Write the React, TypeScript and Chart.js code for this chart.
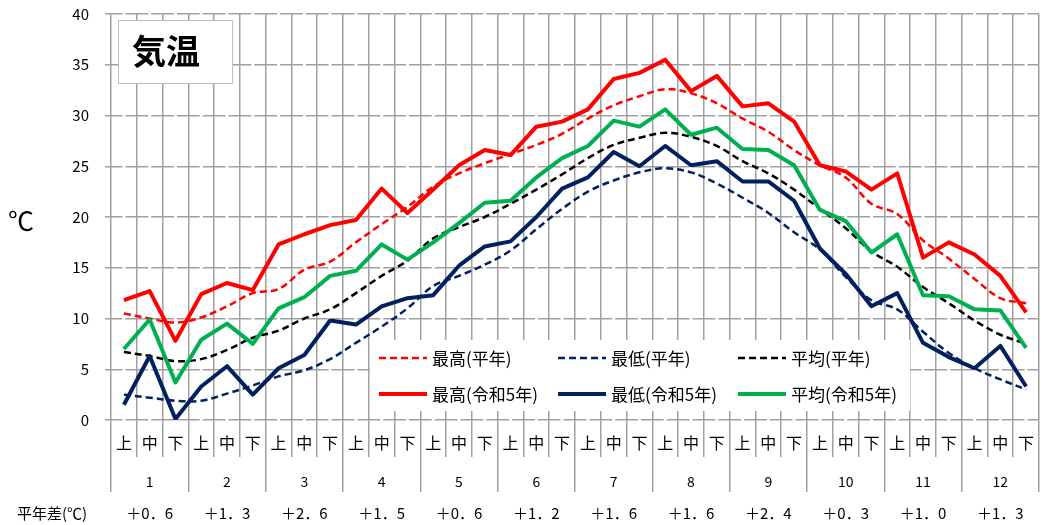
import { useEffect, useRef } from 'react';
import { Chart, registerables } from 'chart.js';

Chart.register(...registerables);

// ---- data ----
const months = ['1', '2', '3', '4', '5', '6', '7', '8', '9', '10', '11', '12'];
const dekads = ['上', '中', '下'];
const categories = months.flatMap(() => dekads);

const maxNormal = [10.5, 10.0, 9.6, 10.1, 11.2, 12.5, 12.9, 14.8, 15.6, 17.5, 19.3, 21.0, 23.0, 24.3, 25.3, 26.2, 27.1, 28.2, 29.7, 31.0, 31.9, 32.6, 32.2, 31.2, 29.7, 28.4, 26.6, 25.1, 23.9, 21.3, 20.3, 17.7, 15.9, 13.9, 12.0, 11.5];
const minNormal = [2.5, 2.2, 1.9, 1.9, 2.6, 3.4, 4.3, 4.9, 6.0, 7.6, 9.2, 11.0, 13.2, 14.2, 15.3, 16.7, 18.8, 20.8, 22.5, 23.6, 24.4, 24.8, 24.4, 23.3, 21.9, 20.4, 18.5, 16.8, 14.1, 11.8, 10.9, 8.7, 6.6, 5.1, 4.0, 3.0];
const avgNormal = [6.7, 6.3, 5.8, 6.0, 6.9, 8.1, 8.8, 10.0, 10.9, 12.5, 14.2, 15.7, 17.9, 19.0, 20.0, 21.3, 22.7, 24.2, 25.8, 27.1, 27.8, 28.3, 27.9, 27.0, 25.5, 24.3, 22.7, 20.8, 18.9, 16.6, 15.1, 13.1, 11.5, 9.8, 8.4, 7.5];
const max2023 = [11.8, 12.7, 7.8, 12.4, 13.5, 12.8, 17.3, 18.3, 19.2, 19.7, 22.8, 20.4, 22.7, 25.1, 26.6, 26.1, 28.9, 29.4, 30.6, 33.6, 34.2, 35.5, 32.4, 33.9, 30.9, 31.2, 29.4, 25.1, 24.5, 22.7, 24.3, 16.0, 17.5, 16.3, 14.2, 10.6];
const min2023 = [1.5, 6.3, 0.1, 3.3, 5.3, 2.5, 5.1, 6.4, 9.8, 9.4, 11.2, 12.0, 12.3, 15.2, 17.1, 17.6, 20.0, 22.8, 23.9, 26.4, 25.0, 27.0, 25.1, 25.5, 23.5, 23.5, 21.6, 16.9, 14.4, 11.2, 12.5, 7.6, 6.2, 5.1, 7.3, 3.3];
const avg2023 = [7.0, 9.9, 3.7, 7.9, 9.5, 7.5, 11.0, 12.1, 14.2, 14.7, 17.3, 15.8, 17.5, 19.4, 21.4, 21.6, 23.9, 25.8, 27.0, 29.5, 28.9, 30.6, 28.1, 28.8, 26.7, 26.6, 25.1, 20.7, 19.6, 16.5, 18.3, 12.3, 12.2, 10.9, 10.8, 7.1];
const anomalies = ['＋0．6', '＋1．3', '＋2．6', '＋1．5', '＋0．6', '＋1．2', '＋1．6', '＋1．6', '＋2．4', '＋0．3', '＋1．0', '＋1．3'];
const yMin = 0;
const yMax = 40;
const yStep = 5;

const FONT = '"Noto Sans CJK JP", "Noto Sans", sans-serif';
const GRID = '#a0a0a0';
const RED = '#ff0000';
const NAVY = '#002060';
const GREEN = '#00b050';
const BLACK = '#000000';
const DASH = [7, 4];
const CAT_W = 928 / 36;

const decorPlugin = {
  id: 'decor',
  afterDraw(chart: any) {
    const ctx = chart.ctx as CanvasRenderingContext2D;
    ctx.save();
    // title box
    ctx.fillStyle = '#ffffff';
    ctx.fillRect(118, 20, 114, 63);
    ctx.strokeStyle = '#c0c0c0';
    ctx.lineWidth = 1;
    ctx.strokeRect(118.5, 20.5, 114, 63);
    ctx.fillStyle = '#000';
    ctx.font = `bold 34px ${FONT}`;
    ctx.textBaseline = 'middle';
    ctx.textAlign = 'left';
    ctx.fillText('気温', 132, 51);

    // unit label
    ctx.font = `26px ${FONT}`;
    ctx.fillText('℃', 8, 221);

    // legend box
    ctx.fillStyle = '#ffffff';
    ctx.fillRect(370, 340, 540, 71);
    const ds = chart.data.datasets;
    const cols = [379, 558, 738];
    const rows = [358, 394];
    ctx.font = `17px ${FONT}`;
    ds.forEach((d: any, i: number) => {
      const col = i % 3;
      const row = Math.floor(i / 3);
      const x = cols[col];
      const y = rows[row];
      ctx.beginPath();
      ctx.strokeStyle = d.borderColor;
      ctx.lineWidth = d.borderWidth;
      ctx.setLineDash(d.borderDash || []);
      ctx.moveTo(x, y);
      ctx.lineTo(x + 48, y);
      ctx.stroke();
      ctx.setLineDash([]);
      ctx.fillStyle = '#000';
      ctx.textAlign = 'left';
      ctx.fillText(d.label, x + 53, y + 1);
    });

    // anomaly row
    const xm = chart.scales.xm;
    ctx.font = `15px ${FONT}`;
    ctx.fillStyle = '#000';
    ctx.textAlign = 'left';
    ctx.fillText('平年差(℃)', 17, 513);
    ctx.textAlign = 'center';
    anomalies.forEach((t, i) => {
      ctx.fillText(t, xm.getPixelForValue(i), 513);
    });
    ctx.restore();
  },
};

export default function App() {
  const ref = useRef<HTMLCanvasElement | null>(null);
  useEffect(() => {
    if (!ref.current) return;
    const line = (label: string, data: number[], color: string, dashed: boolean, order: number) => ({
      label,
      data,
      borderColor: color,
      backgroundColor: color,
      borderWidth: dashed ? 2.5 : 4,
      borderDash: dashed ? DASH : [],
      tension: dashed ? 0.35 : 0,
      pointRadius: 0,
      fill: false,
      order,
      xAxisID: 'x',
      yAxisID: 'y',
      borderJoinStyle: 'round' as const,
    });
    const chart = new Chart(ref.current, {
      type: 'line',
      data: {
        labels: categories,
        datasets: [
          line('最高(平年)', maxNormal, RED, true, 6),
          line('最低(平年)', minNormal, NAVY, true, 5),
          line('平均(平年)', avgNormal, BLACK, true, 4),
          line('最高(令和5年)', max2023, RED, false, 1),
          line('最低(令和5年)', min2023, NAVY, false, 3),
          line('平均(令和5年)', avg2023, GREEN, false, 2),
        ],
      },
      options: {
        responsive: false,
        animation: false,
        layout: { padding: { top: 14, right: 3, left: 0, bottom: 0 } },
        plugins: { legend: { display: false }, tooltip: { enabled: false } },
        scales: {
          x: {
            type: 'category',
            position: 'bottom',
            offset: true,
            grid: { offset: true, color: GRID, lineWidth: 1.5, tickLength: 37, drawTicks: true },
            border: { display: false },
            ticks: { padding: -24, color: '#000', font: { family: FONT, size: 16 }, maxRotation: 0, autoSkip: false },
            afterFit: (s: any) => { s.height = 37; s.paddingLeft = 0; s.paddingRight = 0; },
          },
          xm: {
            type: 'category',
            labels: months,
            position: 'bottom',
            offset: true,
            grid: { offset: true, drawOnChartArea: false, color: GRID, lineWidth: 1.5, tickLength: 35 },
            border: { display: false },
            ticks: { padding: -19, color: '#000', font: { family: FONT, size: 14 }, maxRotation: 0, autoSkip: false },
            afterFit: (s: any) => { s.height = 68; s.paddingLeft = 0; s.paddingRight = 0; },
          },
          y: {
            min: yMin,
            max: yMax,
            position: 'left',
            grid: { color: GRID, lineWidth: 1.5, tickLength: 6 },
            border: { display: false, dash: [CAT_W - 3, 3], dashOffset: CAT_W / 2 - 1.5 + 0 },
            ticks: { stepSize: yStep, padding: 16, color: '#000', font: { family: FONT, size: 15 } },
            afterFit: (s: any) => { s.width = 111; s.paddingTop = 0; s.paddingBottom = 0; },
          },
        },
      } as any,
      plugins: [decorPlugin],
    });
    return () => chart.destroy();
  }, []);
  return (
    <div style={{ position: 'absolute', left: 0, top: 0, width: 1042, height: 525 }}>
      <canvas ref={ref} width={1042} height={525} style={{ display: 'block' }} />
    </div>
  );
}
